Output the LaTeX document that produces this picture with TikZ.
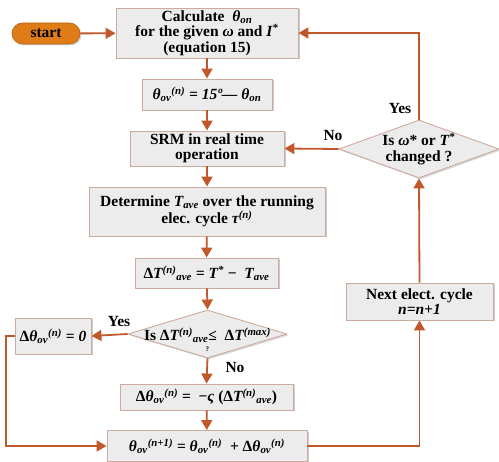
\documentclass[tikz,border=0pt]{standalone}
\usepackage{fontspec}
\setmainfont{Liberation Serif}
\usetikzlibrary{shapes.geometric,shapes.misc,arrows.meta,shadows}
\definecolor{arr}{RGB}{192,88,44}
\definecolor{bord}{RGB}{205,170,158}
\definecolor{boxfill}{RGB}{236,236,236}
\definecolor{startc}{RGB}{224,124,24}
\begin{document}
\begin{tikzpicture}[x=1pt,y=-1pt,
  every node/.style={font=\fontsize{15.5}{15.3}\selectfont\bfseries, align=center},
  pbox/.style={draw=bord, line width=0.9pt, fill=boxfill, inner sep=0pt,
    drop shadow={shadow xshift=1.5pt, shadow yshift=-1.5pt, opacity=0.4}},
  dshape/.style={diamond, draw=bord, line width=0.9pt, fill=boxfill, inner sep=0pt,
    drop shadow={shadow xshift=1.5pt, shadow yshift=-1.5pt, opacity=0.3}},
  pill/.style={rounded rectangle, draw=startc!80!black, line width=0.6pt, fill=startc, inner sep=0pt,
    drop shadow={shadow xshift=1.5pt, shadow yshift=-1.5pt, opacity=0.35}},
  arrow/.style={draw=arr, line width=1.8pt, -{Triangle[length=10pt,width=11pt]}},
  lbl/.style={font=\fontsize{15.5}{15}\selectfont\bfseries}
]
\useasboundingbox (0,0) rectangle (499,462);

\node[pill, minimum width=68pt, minimum height=21pt] (start) at (46,33.5) {start};
\node[pbox, minimum width=182pt, minimum height=50pt] (calc) at (207,33)
  {Calculate \ \textit{θ\textsubscript{on}}\\for the given \textit{ω} and \textit{I}\textsuperscript{*}\\(equation 15)};
\node[pbox, minimum width=130pt, minimum height=31pt] (ov) at (207,94.5)
  {\textit{θ\textsubscript{ov}\textsuperscript{(n)} = 15º— θ\textsubscript{on}}};
\node[pbox, minimum width=154pt, minimum height=35pt] (srm) at (207,148.5)
  {SRM in real time\\operation};
\node[pbox, minimum width=236pt, minimum height=49pt] (det) at (207,211.5)
  {Determine \textit{T\textsubscript{ave}} over the running\\elec. cycle \textit{τ\textsuperscript{(n)}}};
\node[pbox, minimum width=143pt, minimum height=30pt] (dT) at (206.5,273)
  {Δ\textit{T\textsuperscript{(n)}\textsubscript{ave} = T\textsuperscript{*}} − \ \textit{T\textsubscript{ave}}};
\node[dshape, minimum width=159pt, minimum height=48pt] (d1) at (207.5,334) {};
\node (d1t) at (207.5,340) {Is Δ\textit{T\textsuperscript{(n)}\textsubscript{ave}}≤ \ Δ\textit{T\textsuperscript{(max)}}\\[-4pt]{\scriptsize ?}};
\node[pbox, minimum width=76pt, minimum height=36pt] (zero) at (53,336)
  {Δ\textit{θ\textsubscript{ov}\textsuperscript{(n)}} = \textit{0}};
\node[pbox, minimum width=173pt, minimum height=26pt] (neg) at (206.5,397)
  {Δ\textit{θ\textsubscript{ov}\textsuperscript{(n)}} = \ −\textit{ς} (Δ\textit{T\textsuperscript{(n)}\textsubscript{ave}})};
\node[pbox, minimum width=200pt, minimum height=31pt] (next1) at (207,446)
  {\textit{θ\textsubscript{ov}\textsuperscript{(n+1)}} = \textit{θ\textsubscript{ov}\textsuperscript{(n)}} \ + Δ\textit{θ\textsubscript{ov}\textsuperscript{(n)}}};
\node[pbox, minimum width=147pt, minimum height=37pt] (nextc) at (419.5,301.5)
  {Next elect. cycle\\\textit{n=n+1}};
\node[dshape, minimum width=160pt, minimum height=58pt] (d2) at (419,149) {};
\node (d2t) at (419,149) {Is \textit{ω}* or \textit{T}\textsuperscript{*}\\changed ?};

\coordinate (lc) at (6,336);

\draw[arrow] (start) -- (calc);
\draw[arrow] (calc) -- (ov);
\draw[arrow] (ov) -- (srm);
\draw[arrow] (srm) -- (det);
\draw[arrow] (det) -- (dT);
\draw[arrow] (dT) -- (d1.north);
\draw[arrow] (d1.west) -- (zero.east);
\draw[arrow] (d1.south) -- (neg.north);
\draw[arrow] (neg) -- (next1);
\draw[arrow] (zero.west) -- (lc) |- (next1.west);
\draw[arrow] (next1.east) -| (nextc.south);
\draw[arrow] (nextc.north) -- (d2.south);
\draw[arrow] (d2.north) |- (calc.east);
\draw[arrow] (d2.west) -- (srm.east);

\node[lbl] (yes1) at (119,322) {Yes};
\node[lbl] (no1) at (235,368) {No};
\node[lbl] (yes2) at (400,109) {Yes};
\node[lbl] (no2) at (333,136) {No};
\end{tikzpicture}
\end{document}
